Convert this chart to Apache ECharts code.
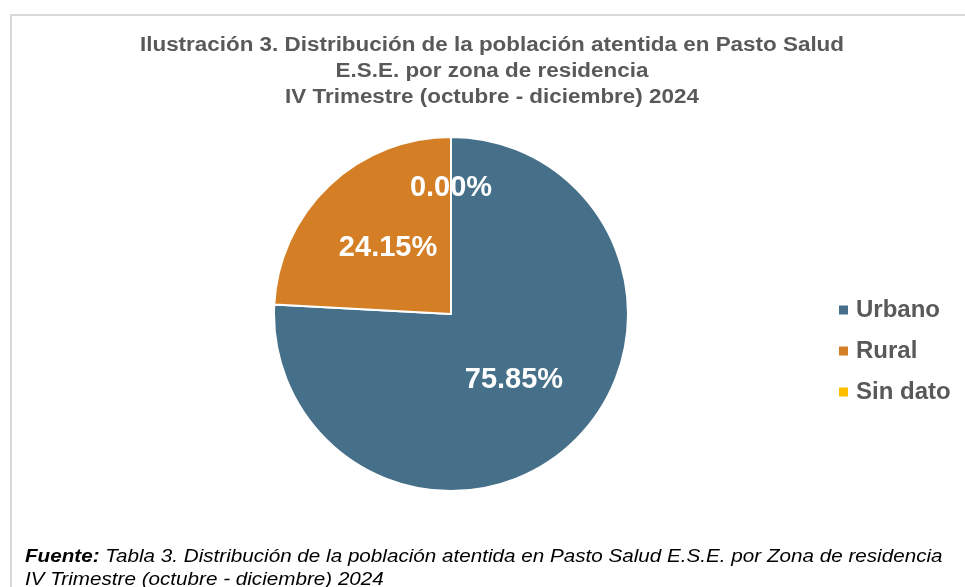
<!DOCTYPE html>
<html><head><meta charset="utf-8">
<script src="https://cdn.jsdelivr.net/npm/echarts@6/dist/echarts.min.js"></script>
<style>html,body{margin:0;padding:0;background:#fff}#c{width:965px;height:587px}</style>
</head><body><div id="c"></div>
<script>
const categories = ['Urbano', 'Rural', 'Sin dato'];
const values = [75.85, 24.15, 0.00];
const colors = ['#46708A', '#D47F26', '#FFC000'];
const titleLines = ['Ilustración 3. Distribución de la población atentida en Pasto Salud', 'E.S.E. por zona de residencia', 'IV Trimestre (octubre - diciembre) 2024'];
const sourceLabel = 'Fuente:';
const sourceLines = [' Tabla 3. Distribución de la población atentida en Pasto Salud E.S.E. por Zona de residencia', 'IV Trimestre (octubre - diciembre) 2024'];

const FONT = 'Liberation Sans, Arial, sans-serif';
const chart = echarts.init(document.getElementById('c'));
const data = categories.map((name, i) => {
  const item = { name, value: values[i], itemStyle: { color: colors[i] } };
  if (values[i] === 0) item.label = { offset: [0, -35] };
  return item;
});
chart.setOption({
  animation: false,
  backgroundColor: '#fff',
  graphic: [
    { type: 'rect', shape: { x: 11, y: 15, width: 1000, height: 1000 }, style: { fill: 'none', stroke: '#d9d9d9', lineWidth: 2 }, silent: true },
    { type: 'text', x: 492, y: 33, scaleX: 1.15, silent: true,
      style: { text: titleLines.join('\n'), align: 'center', verticalAlign: 'top', fontFamily: FONT, fontSize: 19.5, fontWeight: 'bold', fill: '#595959', lineHeight: 26 } },
    { type: 'text', x: 25, y: 546, scaleX: 1.18, silent: true,
      style: {
        text: '{b|' + sourceLabel + '}{i|' + sourceLines[0] + '}\n{i|' + sourceLines[1] + '}',
        align: 'left', verticalAlign: 'top',
        rich: {
          b: { fontFamily: FONT, fontSize: 17.5, fontWeight: 'bold', fontStyle: 'italic', fill: '#000', lineHeight: 23 },
          i: { fontFamily: FONT, fontSize: 17.5, fontWeight: 'normal', fontStyle: 'italic', fill: '#000', lineHeight: 23 }
        }
      } }
  ],
  legend: {
    orient: 'vertical', left: 832, top: 292,
    data: categories,
    icon: 'rect', itemWidth: 11, itemHeight: 11, itemGap: 15,
    textStyle: { fontFamily: FONT, fontSize: 24, fontWeight: 'bold', color: '#595959', lineHeight: 26, padding: [0, 0, 0, 2] }
  },
  series: [{
    type: 'pie',
    center: [451, 314], radius: 177,
    startAngle: 90, clockwise: true,
    itemStyle: { borderColor: '#fff', borderWidth: 2 },
    label: {
      show: true, position: 'inside',
      formatter: p => p.value.toFixed(2) + '%',
      fontFamily: FONT, fontSize: 29, fontWeight: 'bold', color: '#fff'
    },
    labelLine: { show: false },
    emphasis: { disabled: true },
    data
  }]
});
</script></body></html>
